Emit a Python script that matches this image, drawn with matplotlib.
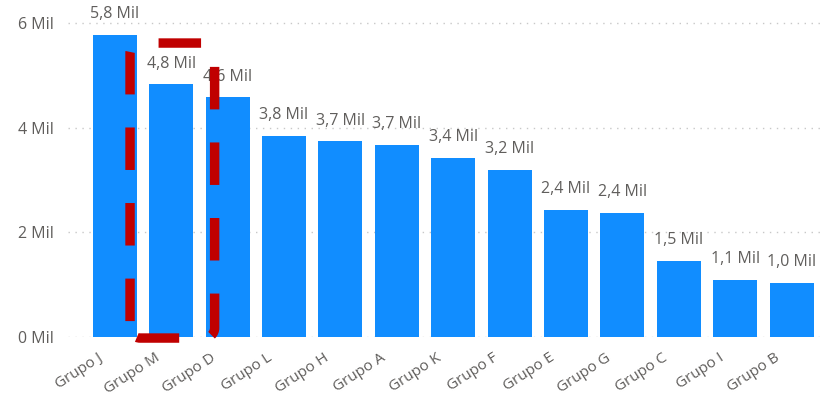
import matplotlib
matplotlib.use("Agg")
import matplotlib.pyplot as plt
import matplotlib.transforms as mtransforms
from matplotlib.path import Path
from matplotlib.patches import PathPatch

# values in thousands
grupos = ["Grupo J", "Grupo M", "Grupo D", "Grupo L", "Grupo H", "Grupo A", "Grupo K",
          "Grupo F", "Grupo E", "Grupo G", "Grupo C", "Grupo I", "Grupo B"]
valores = [5.77, 4.83, 4.58, 3.84, 3.74, 3.68, 3.43, 3.19, 2.43, 2.38, 1.46, 1.09, 1.03]
y_ticks = [0, 2, 4, 6]


def rounded_rect(x0, y0, x1, y1, rx, ry):
    # closed outline that starts at the lower-left corner, runs right, up, left, down
    k = 0.5523
    verts = [(x0, y0 + ry),
             (x0, y0 + ry * (1 - k)), (x0 + rx * (1 - k), y0), (x0 + rx, y0),
             (x1 - rx, y0),
             (x1 - rx * (1 - k), y0), (x1, y0 + ry * (1 - k)), (x1, y0 + ry),
             (x1, y1 - ry),
             (x1, y1 - ry * (1 - k)), (x1 - rx * (1 - k), y1), (x1 - rx, y1),
             (x0 + rx, y1),
             (x0 + rx * (1 - k), y1), (x0, y1 - ry * (1 - k)), (x0, y1 - ry),
             (x0, y0 + ry)]
    codes = [Path.MOVETO] + [Path.CURVE4] * 3 + [Path.LINETO] + [Path.CURVE4] * 3 \
        + [Path.LINETO] + [Path.CURVE4] * 3 + [Path.LINETO] + [Path.CURVE4] * 3 + [Path.LINETO]
    return Path(verts, codes)


plt.rcParams['font.family'] = ['Open Sans', 'DejaVu Sans']

fig = plt.figure(figsize=(8.27, 3.96), dpi=100)
ax = fig.add_axes([68 / 827, 59 / 396, (822 - 68) / 827, (337 - 8) / 396])

x = list(range(len(grupos)))
ax.bar(x, valores, width=0.78, color="#118DFF", zorder=2)

for xi, v in zip(x, valores):
    txt = f"{v:.1f}".replace(".", ",") + " Mil"
    ax.annotate(txt, (xi, v), xytext=(0, 15), textcoords="offset points",
                ha="center", va="center", fontsize=11.5, color="#605E5C")

ax.set_xlim(-0.83, 12.54)
ax.set_ylim(0, 6.29)
ax.set_yticks(y_ticks)
ax.set_yticklabels([f"{t} Mil" for t in y_ticks], fontsize=11.5, color="#605E5C")
ax.set_xticks(x)
ax.set_xticklabels(grupos, rotation=33, ha="right", rotation_mode="anchor",
                   fontsize=11, color="#605E5C")
ax.tick_params(axis="both", length=0)
ax.tick_params(axis="y", pad=10)
ax.tick_params(axis="x", pad=6)

# nudge the slanted category labels a little left and down
shift = mtransforms.ScaledTranslation(-17 / 100, -5 / 100, fig.dpi_scale_trans)
for lbl in ax.get_xticklabels():
    lbl.set_transform(lbl.get_transform() + shift)

for t in y_ticks:
    ax.axhline(t, color="#C8C8C8", linestyle=(0, (1, 4)), linewidth=1, zorder=1)

for s in ax.spines.values():
    s.set_visible(False)

# dashed highlight around the second bar
outline = rounded_rect(0.27, -0.02, 1.77, 5.62, 0.18, 0.194)
ax.add_patch(PathPatch(outline, fill=False, edgecolor="#C00000", linewidth=6.8,
                       linestyle=(6.68, (4.5, 3.5)), capstyle="butt",
                       clip_on=False, zorder=3))

fig.savefig("out.png", dpi=100)
